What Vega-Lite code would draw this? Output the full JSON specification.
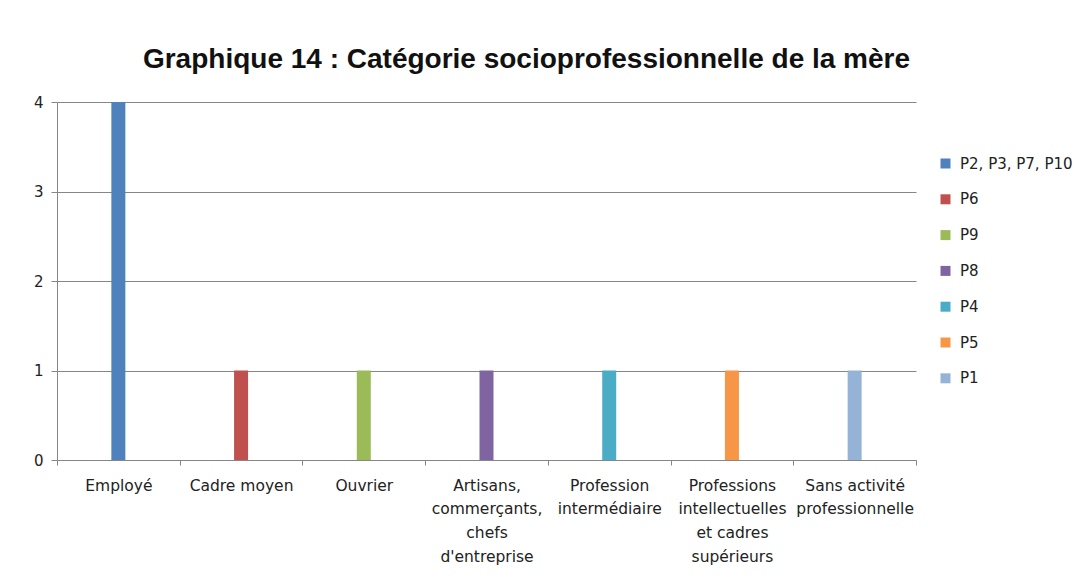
{
  "$schema": "https://vega.github.io/schema/vega-lite/v6.json",
  "width": 859,
  "height": 358,
  "autosize": {"type": "none"},
  "padding": {"left": 57, "top": 102, "right": 173, "bottom": 127},
  "background": "white",
  "title": {
    "text": "Graphique 14 : Catégorie socioprofessionnelle de la mère",
    "font": "Liberation Sans",
    "fontSize": 28,
    "fontWeight": "bold",
    "color": "#111111",
    "anchor": "middle",
    "offset": 21,
    "dx": 40
  },
  "data": {
    "values": [
      {"categorie": "Employé", "serie": "P2, P3, P7, P10", "valeur": 4, "ordre": 1},
      {"categorie": "Cadre moyen", "serie": "P6", "valeur": 1, "ordre": 2},
      {"categorie": "Ouvrier", "serie": "P9", "valeur": 1, "ordre": 3},
      {"categorie": "Artisans,\ncommerçants,\nchefs\nd'entreprise", "serie": "P8", "valeur": 1, "ordre": 4},
      {"categorie": "Profession\nintermédiaire", "serie": "P4", "valeur": 1, "ordre": 5},
      {"categorie": "Professions\nintellectuelles\net cadres\nsupérieurs", "serie": "P5", "valeur": 1, "ordre": 6},
      {"categorie": "Sans activité\nprofessionnelle", "serie": "P1", "valeur": 1, "ordre": 7}
    ]
  },
  "mark": {"type": "bar", "width": 14},
  "encoding": {
    "x": {
      "field": "categorie",
      "type": "nominal",
      "sort": {"field": "ordre"},
      "title": null,
      "scale": {"paddingInner": 0, "paddingOuter": 0},
      "axis": {
        "labelAngle": 0,
        "labelExpr": "split(datum.label, '\\n')",
        "labelFont": "DejaVu Sans",
        "labelFontSize": 15.5,
        "labelColor": "#222222",
        "labelLineHeight": 23.7,
        "labelPadding": 13,
        "labelBaseline": "top",
        "tickBand": "extent",
        "tickSize": 5,
        "tickColor": "#868686",
        "domainColor": "#868686",
        "labelLimit": 200
      }
    },
    "y": {
      "field": "valeur",
      "type": "quantitative",
      "title": null,
      "scale": {"domain": [0, 4]},
      "axis": {
        "values": [0, 1, 2, 3, 4],
        "labelFont": "DejaVu Sans",
        "labelFontSize": 15,
        "labelColor": "#222222",
        "labelPadding": 8,
        "tickSize": 6,
        "tickColor": "#868686",
        "gridColor": "#868686",
        "gridOpacity": 1,
        "domainColor": "#868686"
      }
    },
    "color": {
      "field": "serie",
      "type": "nominal",
      "sort": ["P2, P3, P7, P10", "P6", "P9", "P8", "P4", "P5", "P1"],
      "scale": {
        "domain": ["P2, P3, P7, P10", "P6", "P9", "P8", "P4", "P5", "P1"],
        "range": ["#4F81BD", "#C0504D", "#9BBB59", "#8064A2", "#4BACC6", "#F79646", "#95B3D7"]
      },
      "legend": {
        "title": null,
        "orient": "none",
        "legendX": 881,
        "legendY": 54,
        "symbolType": "square",
        "symbolSize": 100,
        "symbolStrokeWidth": 0,
        "labelFont": "DejaVu Sans",
        "labelFontSize": 15,
        "labelColor": "#222222",
        "rowPadding": 19.8,
        "labelOffset": 7,
        "labelLimit": 200
      }
    }
  },
  "config": {
    "view": {"stroke": null}
  }
}
